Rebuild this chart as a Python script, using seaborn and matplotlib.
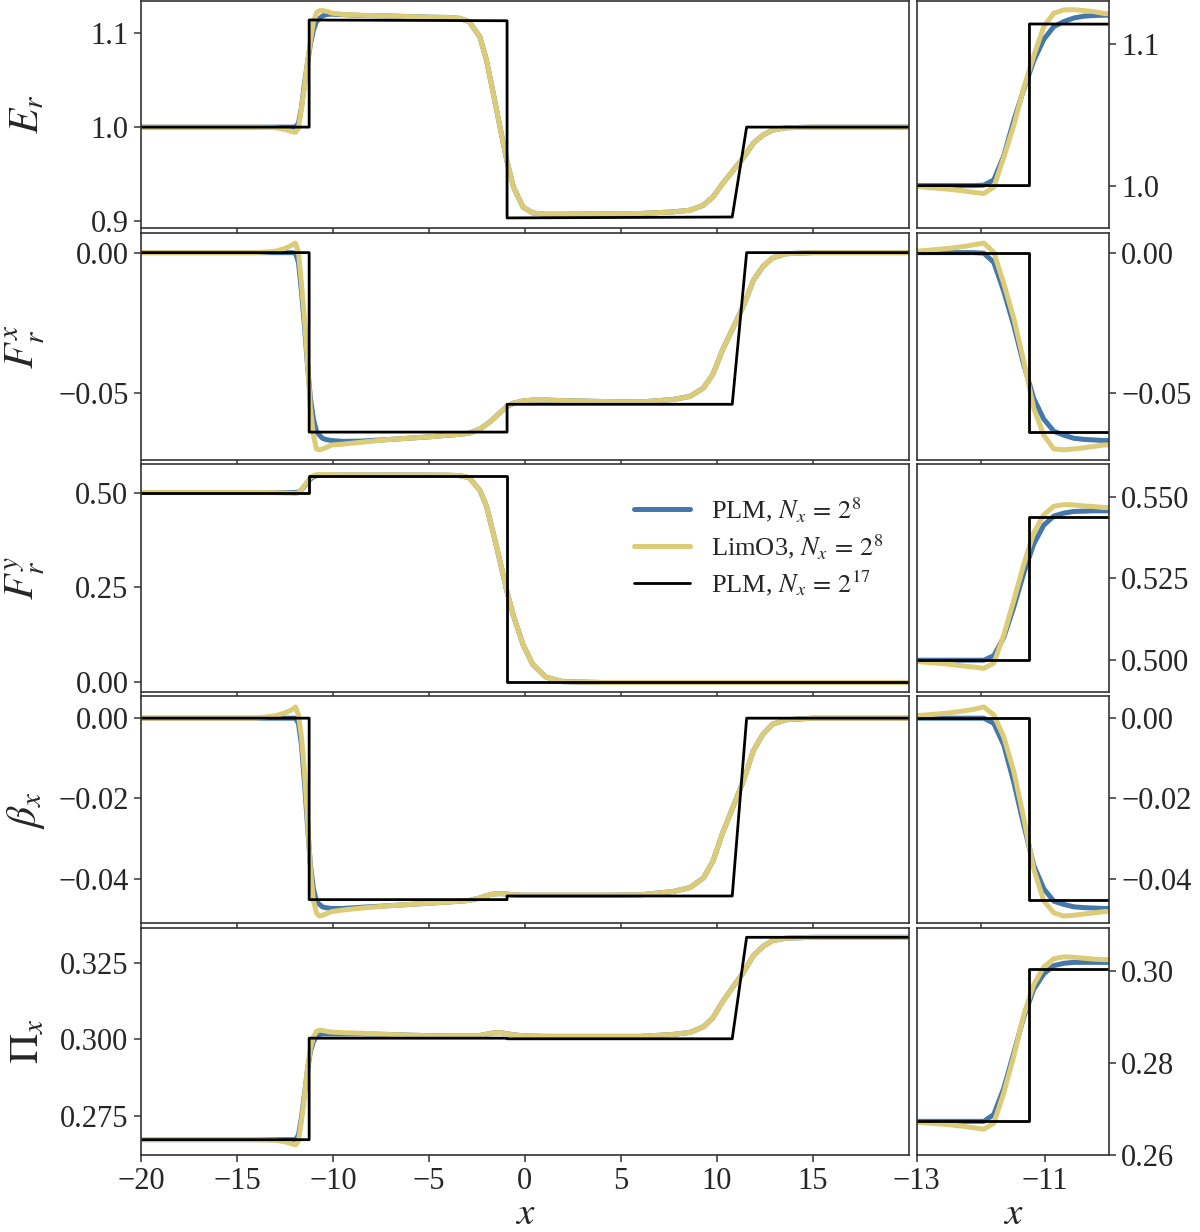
import numpy as np
import matplotlib
matplotlib.use("Agg")
import matplotlib.pyplot as plt
import seaborn as sns

# sample positions of the N=2^8 curves (cell centres near the shock)
x_grid = [-20, -14, -13, -12.5, -12.266, -12.109, -11.953, -11.797, -11.641, -11.484,
          -11.328, -11.172, -11.016, -10.859, -10.703, -10.547, -10.391, -10.234, -10.078,
          -9.5, -8.5, -7, -5, -4, -3.4, -2.9, -2.35, -2.0, -1.65, -1.3, -0.95, -0.6, -0.1,
          0.4, 1.1, 2, 4, 6, 7.7, 8.6, 9.3, 9.8, 10.3, 10.85, 11.4, 11.9, 12.4, 12.9, 13.6,
          15, 20]

# reference solution (N=2^17) corners
ref_x = [-20, -11.24, -11.24, -0.93, -0.93, 10.8, 11.55, 20]

er_lim = [1.0, 1.0, 0.9993, 0.9975, 0.9962, 0.9952, 0.9944, 0.9989, 1.020, 1.0425,
          1.069, 1.0915, 1.112, 1.1214, 1.1237, 1.1239, 1.1232, 1.1225, 1.1212,
          1.1198, 1.1188, 1.118, 1.1168, 1.1165, 1.1156, 1.112, 1.096, 1.071, 1.036,
          1.0003, 0.965, 0.9365, 0.915, 0.9088, 0.9074, 0.9075, 0.9078, 0.9082,
          0.9099, 0.9117, 0.917, 0.9259, 0.940, 0.954, 0.968, 0.983, 0.9915, 0.9968,
          0.9993, 1.0, 1.0]
er_plm = [1.0, 1.0, 1.0, 1.0, 1.0, 1.0, 1.0003, 1.004, 1.021, 1.046,
          1.068, 1.088, 1.103, 1.112, 1.1155, 1.118, 1.1193, 1.1198, 1.120,
          1.1195, 1.1186, 1.118, 1.1168, 1.1165, 1.1156, 1.112, 1.096, 1.071, 1.036,
          1.0003, 0.965, 0.9365, 0.915, 0.9088, 0.9074, 0.9075, 0.9078, 0.9082,
          0.9099, 0.9117, 0.917, 0.9259, 0.940, 0.954, 0.968, 0.983, 0.9915, 0.9968,
          0.9993, 1.0, 1.0]
er_ref = [1.0, 1.0, 1.1138, 1.113, 0.9035, 0.9045, 1.0, 1.0]

frx_lim = [0, 0, 0.0005, 0.0015, 0.0022, 0.0028, 0.0034, 0.0001, -0.011, -0.0235,
           -0.0388, -0.0555, -0.065, -0.0699, -0.0702, -0.0699, -0.0695, -0.069, -0.0685,
           -0.0682, -0.0675, -0.0665, -0.0656, -0.065, -0.0647, -0.0643, -0.0628, -0.0612,
           -0.0592, -0.057, -0.0549, -0.0536, -0.0528, -0.0525, -0.0525, -0.0527, -0.053,
           -0.0532, -0.0523, -0.0512, -0.0482, -0.0432, -0.0346, -0.0267, -0.0187,
           -0.0099, -0.0049, -0.0019, -0.0004, 0, 0]
frx_plm = [0, 0, 0, 0, 0, 0, -0.0002, -0.0035, -0.0138, -0.026,
           -0.040, -0.052, -0.0593, -0.0636, -0.065, -0.0661, -0.0665, -0.0667, -0.0669,
           -0.0672, -0.0671, -0.0665, -0.0656, -0.065, -0.0647, -0.0643, -0.0628, -0.0612,
           -0.0592, -0.057, -0.0549, -0.0536, -0.0528, -0.0525, -0.0525, -0.0527, -0.053,
           -0.0532, -0.0523, -0.0512, -0.0482, -0.0432, -0.0346, -0.0267, -0.0187,
           -0.0099, -0.0049, -0.0019, -0.0004, 0, 0]
frx_ref = [0, 0, -0.0639, -0.0639, -0.054, -0.054, 0, 0]

fry_lim = [0.5, 0.5, 0.4996, 0.4988, 0.4982, 0.4979, 0.4975, 0.4991, 0.5077, 0.5183,
           0.5294, 0.539, 0.5445, 0.5471, 0.5476, 0.5475, 0.5472, 0.547, 0.5467,
           0.5465, 0.5462, 0.546, 0.5458, 0.5455, 0.5445, 0.539, 0.506, 0.4636, 0.393,
           0.32, 0.242, 0.176, 0.10, 0.048, 0.014, 0.002, 0.0, 0.0,
           0, 0, 0, 0, 0, 0, 0, 0, 0, 0, 0, 0, 0]
fry_plm = [0.5, 0.5, 0.5, 0.5, 0.5, 0.5, 0.5, 0.5014, 0.507, 0.5163,
           0.5267, 0.5356, 0.5413, 0.5441, 0.545, 0.5455, 0.5456, 0.5457, 0.5457,
           0.5458, 0.5459, 0.546, 0.5458, 0.5455, 0.5445, 0.539, 0.506, 0.4636, 0.393,
           0.32, 0.242, 0.176, 0.10, 0.048, 0.014, 0.002, 0.0, 0.0,
           0, 0, 0, 0, 0, 0, 0, 0, 0, 0, 0, 0, 0]
fry_ref = [0.5, 0.5, 0.5438, 0.5438, 0.0, 0.0, 0.0, 0.0]

bx_lim = [0, 0, 0.0006, 0.0013, 0.0018, 0.0022, 0.0028, 0.0008, -0.0047, -0.0133,
          -0.025, -0.0377, -0.0455, -0.0485, -0.0493, -0.0491, -0.0488, -0.0485, -0.0482,
          -0.0478, -0.0473, -0.0467, -0.0461, -0.0458, -0.0456, -0.0454, -0.0448, -0.0442,
          -0.0438, -0.0437, -0.0438, -0.044, -0.0441, -0.0441, -0.0441, -0.0441, -0.0441,
          -0.044, -0.0432, -0.0422, -0.0398, -0.0356, -0.0286, -0.022, -0.0154,
          -0.0081, -0.004, -0.0015, -0.0004, 0, 0]
bx_plm = [0, 0, 0, 0, 0, 0, 0, -0.0013, -0.0067, -0.016,
          -0.0267, -0.0367, -0.0425, -0.0456, -0.0464, -0.047, -0.0472, -0.0473, -0.0474,
          -0.0474, -0.0471, -0.0467, -0.0461, -0.0458, -0.0456, -0.0454, -0.0448, -0.0442,
          -0.0438, -0.0437, -0.0438, -0.044, -0.0441, -0.0441, -0.0441, -0.0441, -0.0441,
          -0.044, -0.0432, -0.0422, -0.0398, -0.0356, -0.0286, -0.022, -0.0154,
          -0.0081, -0.004, -0.0015, -0.0004, 0, 0]
bx_ref = [0, 0, -0.0452, -0.0452, -0.0443, -0.0443, 0, 0]

pix_lim = [0.2673, 0.2673, 0.2671, 0.2666, 0.2662, 0.2659, 0.2656, 0.2669, 0.2735, 0.2815,
           0.2905, 0.297, 0.3008, 0.3026, 0.303, 0.3029, 0.3027, 0.3025, 0.3024,
           0.3022, 0.302, 0.3016, 0.3012, 0.3011, 0.3011, 0.3011, 0.3013, 0.3017, 0.3021,
           0.3022, 0.3019, 0.3015, 0.3012, 0.3011, 0.301, 0.301, 0.301, 0.301,
           0.3016, 0.3023, 0.3041, 0.3071, 0.3123, 0.3172, 0.322, 0.3273, 0.3303, 0.3322,
           0.333, 0.3333, 0.3333]
pix_plm = [0.2673, 0.2673, 0.2673, 0.2673, 0.2673, 0.2673, 0.2673, 0.2688, 0.2745, 0.2822,
           0.29, 0.296, 0.2993, 0.3011, 0.3016, 0.3018, 0.3018, 0.3018, 0.3018,
           0.3018, 0.3018, 0.3016, 0.3012, 0.3011, 0.3011, 0.3011, 0.3013, 0.3017, 0.3021,
           0.3022, 0.3019, 0.3015, 0.3012, 0.3011, 0.301, 0.301, 0.301, 0.301,
           0.3016, 0.3023, 0.3041, 0.3071, 0.3123, 0.3172, 0.322, 0.3273, 0.3303, 0.3322,
           0.333, 0.3333, 0.3333]
pix_ref = [0.2673, 0.2673, 0.3004, 0.3004, 0.3002, 0.3002, 0.3333, 0.3333]

ylabels = [r"$E_r$", r"$F_r^x$", r"$F_r^y$", r"$\beta_x$", r"$\Pi_x$"]
main_yticks = [[0.9, 1.0, 1.1], [-0.05, 0.0], [0.0, 0.25, 0.5],
               [-0.04, -0.02, 0.0], [0.275, 0.3, 0.325]]
zoom_yticks = [[1.0, 1.1], [-0.05, 0.0], [0.5, 0.525, 0.55],
               [-0.04, -0.02, 0.0], [0.26, 0.28, 0.3]]
main_ylim = [(0.8926, 1.134), (-0.0738, 0.0071), (-0.024, 0.574),
             (-0.0511, 0.0055), (0.2623, 0.3364)]
zoom_ylim = [(0.97, 1.13), (-0.0738, 0.0071), (0.4904, 0.5599),
             (-0.0511, 0.0055), (0.26, 0.3093)]

rows = [(er_plm, er_lim, er_ref), (frx_plm, frx_lim, frx_ref),
        (fry_plm, fry_lim, fry_ref), (bx_plm, bx_lim, bx_ref),
        (pix_plm, pix_lim, pix_ref)]

c_plm = "#4477AA"
c_lim = "#DDCC77"

sns.set_style("ticks")
plt.rcParams["font.family"] = ["Liberation Serif", "DejaVu Serif"]
plt.rcParams["mathtext.fontset"] = "stix"
plt.rcParams["axes.edgecolor"] = "#333333"
plt.rcParams["axes.linewidth"] = 1.2

fig = plt.figure(figsize=(12, 12.32), dpi=100)
gs = fig.add_gridspec(5, 2, left=0.1175, right=0.924, top=0.9992, bottom=0.0625,
                      width_ratios=[768, 192], wspace=0.0167, hspace=0.0198)

for i, (plm, lim, ref) in enumerate(rows):
    ax = fig.add_subplot(gs[i, 0])
    axz = fig.add_subplot(gs[i, 1])
    for a in (ax, axz):
        sns.lineplot(x=x_grid, y=plm, ax=a, color=c_plm, lw=3.6,
                     estimator=None, sort=False, label=r"PLM, $N_x\, =\, 2^8$")
        sns.lineplot(x=x_grid, y=lim, ax=a, color=c_lim, lw=3.6,
                     estimator=None, sort=False, label=r"LimO3, $N_x\, =\, 2^8$")
        sns.lineplot(x=ref_x, y=ref, ax=a, color="black", lw=2.0,
                     estimator=None, sort=False, label=r"PLM, $N_x\, =\, 2^{17}$")
        a.tick_params(direction="out", length=5, width=1.1, labelsize=22,
                      color="#333333", pad=4)
    ax.set_xlim(-20, 20)
    ax.set_ylim(*main_ylim[i])
    ax.set_yticks(main_yticks[i])
    ax.set_xticks([-20, -15, -10, -5, 0, 5, 10, 15])
    ax.set_ylabel(ylabels[i], fontsize=30)
    ax.yaxis.set_label_coords(-0.122, 0.5)

    axz.set_xlim(-13, -10)
    axz.set_ylim(*zoom_ylim[i])
    axz.set_yticks(zoom_yticks[i])
    axz.yaxis.tick_right()
    axz.set_ylabel("")

    if i == 2:
        ax.legend(loc="upper right", bbox_to_anchor=(0.997, 0.97), frameon=False,
                  fontsize=19, handlelength=2.1, handletextpad=0.8,
                  labelspacing=0.3)
    else:
        ax.get_legend().remove()
    axz.get_legend().remove()

    if i == 4:
        ax.set_xlabel(r"$x$", fontsize=28, labelpad=0)
        axz.set_xlabel(r"$x$", fontsize=28, labelpad=0)
        axz.set_xticks([-13, -11])
    else:
        ax.tick_params(labelbottom=False)
        axz.set_xticks([-12])
        axz.tick_params(labelbottom=False)

fig.savefig("out.png", dpi=100)
